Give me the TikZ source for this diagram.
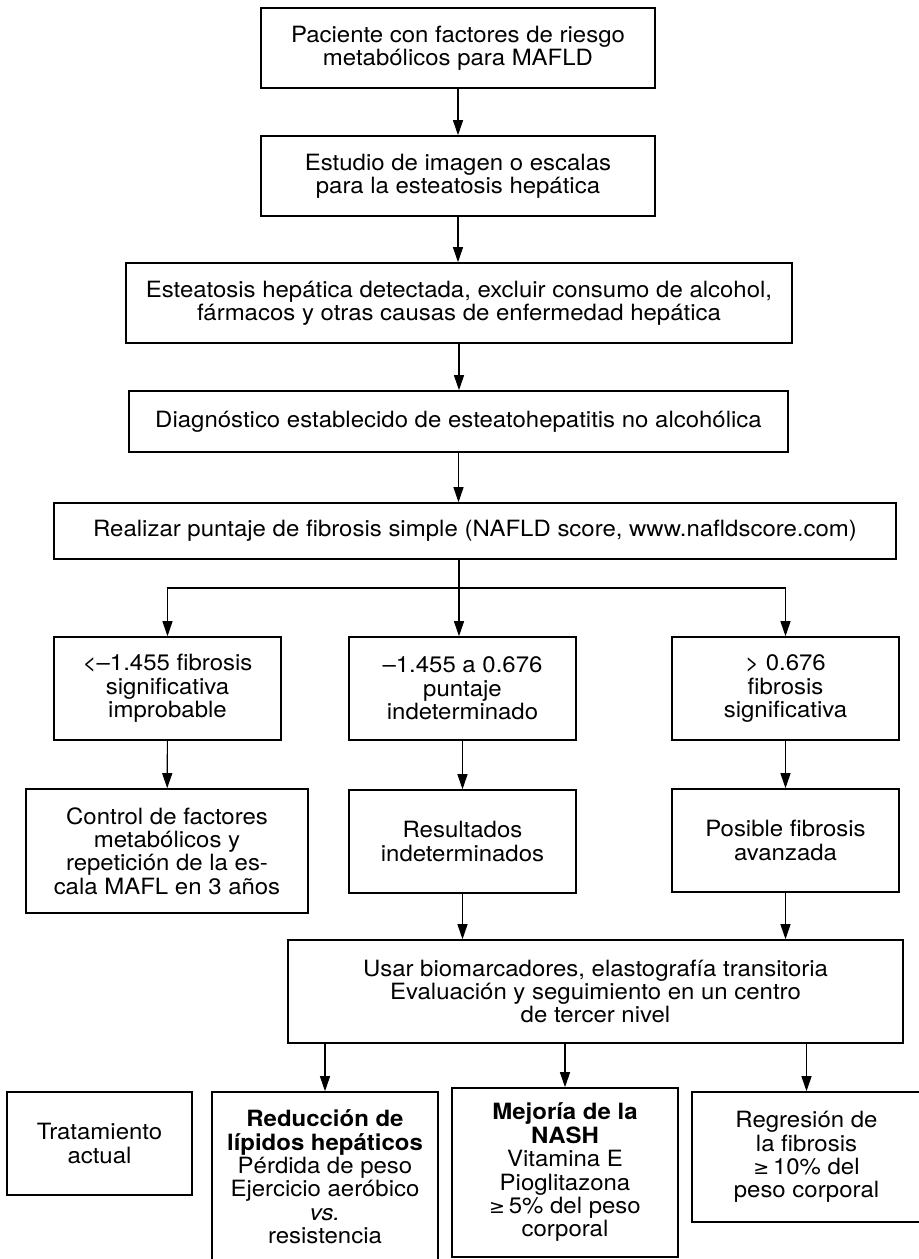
\documentclass[tikz,border=0pt]{standalone}
\usepackage{fontspec}
\setmainfont{TeX Gyre Heros}[FakeStretch=1.07]
\newfontfamily\symfont{DejaVu Sans}
\usetikzlibrary{arrows.meta,positioning,calc}

\newcommand{\geqsym}{{\symfont\fontsize{9.5}{11.7}\selectfont ≥}\,}

\tikzset{
  box/.style={draw, line width=0.8pt, align=center, inner sep=1pt,
    font=\fontsize{11.2}{11.7}\selectfont},
  sz/.style 2 args={minimum width=#1*0.5pt, minimum height=#2*0.5pt},
  arr/.style={->, line width=0.55pt},
}

\begin{document}
\begin{tikzpicture}[x=0.5pt,y=-0.5pt,>={Triangle[length=7.5pt,width=5pt]}]
  \useasboundingbox (0,0) rectangle (918,1259);

  % main column
  \node[box,sz={394}{80}] (pac) at (458,48) {Paciente con factores de riesgo\\metabólicos para MAFLD};
  \node[box,sz={394}{80}] (img) at (458,176) {Estudio de imagen o escalas\\para la esteatosis hepática};
  \node[box,sz={666}{80}] (det) at (459,303) {Esteatosis hepática detectada, excluir consumo de alcohol,\\fármacos y otras causas de enfermedad hepática};
  \node[box,sz={659}{61}] (dx) at (458.5,421.5) {Diagnóstico establecido de esteatohepatitis no alcohólica};
  \node[box,sz={842}{56}] (score) at (475,531) {Realizar puntaje de fibrosis simple (NAFLD score, www.nafldscore.com)};

  % score ranges
  \coordinate (fork) at (459,588);
  \node[box,sz={227}{103}] (low) at (167.5,688.5) {<–1.455 fibrosis\\significativa\\improbable};
  \node[box,sz={227}{103}] (mid) at (462.5,688.5) {–1.455 a 0.676\\puntaje\\indeterminado};
  \node[box,sz={227}{103}] (high) at (785.5,688.5) {> 0.676\\fibrosis\\significativa};

  % follow-up
  \node[box,sz={282}{124}] (ctrl) at (167,851) {Control de factores\\metabólicos y\\repetición de la es-\\cala MAFL en 3 años};
  \node[box,sz={227}{103}] (res) at (462.5,841.5) {Resultados\\indeterminados};
  \node[box,sz={227}{103}] (adv) at (785.5,840.5) {Posible fibrosis\\avanzada};
  \node[box,sz={615}{103}] (bio) at (595.5,991.5) {Usar biomarcadores, elastografía transitoria\\Evaluación y seguimiento en un centro\\de tercer nivel};

  % treatment
  \node[box,sz={185}{103}] (tx) at (99.5,1143.5) {Tratamiento\\actual};
  \node[box,sz={226}{170}] (lip) at (325,1177) {\textbf{Reducción de}\\\textbf{lípidos hepáticos}\\Pérdida de peso\\Ejercicio aeróbico\\\textit{vs.}\\resistencia};
  \node[box,sz={226}{169}] (nash) at (565,1172.5) {\textbf{Mejoría de la}\\\textbf{NASH}\\Vitamina E\\Pioglitazona\\\geqsym 5\% del peso\\corporal};
  \node[box,sz={229}{130}] (fib) at (806.5,1157) {Regresión de\\la fibrosis\\\geqsym 10\% del\\peso corporal};

  \draw[arr] (pac) -- (img);
  \draw[arr] (img.south) -- (img.south |- det.north);
  \draw[arr] (det) -- (det.south |- dx.north);
  \draw[arr] (dx.south) -- (dx.south |- score.north);
  \draw[line width=0.55pt] (score.south -| fork) -- (fork);
  \draw[arr] (fork) -| (low.north);
  \draw[arr] (fork) -| (high.north);
  \draw[arr] (fork) -- (fork |- mid.north);

  \draw[arr] (low) -- (ctrl);
  \draw[arr] (mid) -- (res);
  \draw[arr] (high) -- (adv);
  \draw[arr] (res.south) -- (res.south |- bio.north);
  \draw[arr] (adv.south) -- (adv.south |- bio.north);

  \draw[arr] (bio.south -| lip.north) -- (lip.north);
  \draw[arr] (bio.south -| nash.north) -- (nash.north);
  \draw[arr] (bio.south -| fib.north) -- (fib.north);
\end{tikzpicture}
\end{document}
